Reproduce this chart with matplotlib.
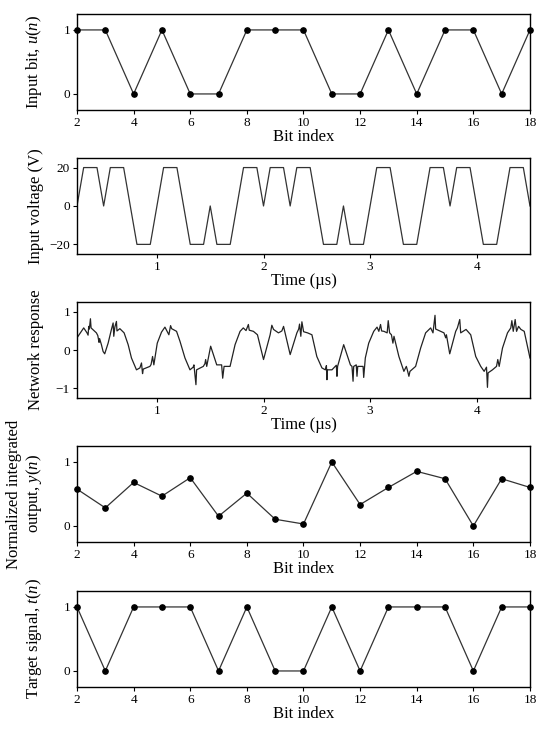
import matplotlib
matplotlib.use("Agg")
import matplotlib.pyplot as plt
import numpy as np

plt.rcParams['font.family'] = ['Liberation Serif', 'DejaVu Serif']
plt.rcParams['mathtext.fontset'] = 'custom'
plt.rcParams['mathtext.rm'] = 'Liberation Serif'
plt.rcParams['mathtext.it'] = 'Liberation Serif:italic'

# bit index axis
bit_index = list(range(2, 19))

# input bits u(n)
input_bits = [1, 1, 0, 1, 0, 0, 1, 1, 1, 0, 0, 1, 0, 1, 1, 0, 1]

# input voltage breakpoints (us, V)
t_volt = [0.25, 0.3125, 0.4375, 0.5, 0.5625, 0.6875, 0.8125, 0.9375, 1.0625, 1.1875,
          1.3125, 1.4375, 1.5, 1.5625, 1.6875, 1.8125, 1.9375, 2.0, 2.0625, 2.1875,
          2.25, 2.3125, 2.4375, 2.5625, 2.6875, 2.75, 2.8125, 2.9375, 3.0625, 3.1875,
          3.3125, 3.4375, 3.5625, 3.6875, 3.75, 3.8125, 3.9375, 4.0625, 4.1875, 4.3125,
          4.4375, 4.5]
v_volt = [0, 20, 20, 0, 20, 20, -20, -20, 20, 20,
          -20, -20, 0, -20, -20, 20, 20, 0, 20, 20,
          0, 20, 20, -20, -20, 0, -20, -20, 20, 20,
          -20, -20, 20, 20, 0, 20, 20, -20, -20, 20,
          20, 0]

# network response
t_resp = [0.25, 0.313, 0.344, 0.354, 0.36, 0.366, 0.376, 0.382, 0.405, 0.432,
          0.445, 0.457, 0.462, 0.479, 0.495, 0.51, 0.542, 0.573, 0.589, 0.595,
          0.605, 0.62, 0.625, 0.652, 0.692, 0.73, 0.761, 0.808, 0.84, 0.855,
          0.865, 0.872, 0.934, 0.945, 0.959, 0.971, 1.003, 1.043, 1.075, 1.112,
          1.128, 1.138, 1.184, 1.216, 1.263, 1.31, 1.34, 1.347, 1.366, 1.372,
          1.435, 1.45, 1.457, 1.467, 1.504, 1.561, 1.607, 1.617, 1.63, 1.655,
          1.686, 1.733, 1.78, 1.81, 1.836, 1.858, 1.866, 1.905, 1.943, 2.0,
          2.062, 2.078, 2.094, 2.14, 2.172, 2.188, 2.25, 2.313, 2.33, 2.338,
          2.35, 2.36, 2.376, 2.413, 2.454, 2.5, 2.548, 2.58, 2.59, 2.595,
          2.6, 2.642, 2.683, 2.689, 2.695, 2.752, 2.815, 2.83, 2.84, 2.846,
          2.87, 2.877, 2.884, 2.934, 2.94, 2.955, 2.987, 3.034, 3.065, 3.082,
          3.098, 3.108, 3.13, 3.16, 3.17, 3.183, 3.2, 3.214, 3.224, 3.27,
          3.317, 3.34, 3.349, 3.364, 3.374, 3.427, 3.474, 3.521, 3.568, 3.59,
          3.609, 3.615, 3.662, 3.693, 3.709, 3.716, 3.747, 3.803, 3.819, 3.841,
          3.85, 3.872, 3.9, 3.944, 3.991, 4.038, 4.07, 4.092, 4.101, 4.107,
          4.148, 4.186, 4.198, 4.211, 4.242, 4.289, 4.32, 4.33, 4.343, 4.361,
          4.374, 4.393, 4.415, 4.446, 4.5]
y_resp = [0.32, 0.58, 0.45, 0.39, 0.62, 0.55, 0.82, 0.58, 0.52, 0.45,
          0.38, 0.2, 0.3, 0.14, -0.04, -0.1, 0.18, 0.54, 0.71, 0.36,
          0.6, 0.75, 0.5, 0.56, 0.45, 0.14, -0.21, -0.52, -0.47, -0.34,
          -0.62, -0.5, -0.43, -0.38, -0.17, -0.39, 0.18, 0.47, 0.6, 0.40,
          0.64, 0.56, 0.49, 0.23, -0.21, -0.52, -0.45, -0.39, -0.91, -0.52,
          -0.43, -0.36, -0.25, -0.43, 0.1, -0.39, -0.39, -0.74, -0.43, -0.43,
          -0.43, 0.14, 0.49, 0.58, 0.51, 0.67, 0.52, 0.49, 0.40, -0.25,
          0.40, 0.65, 0.54, 0.45, 0.5, 0.62, -0.12, 0.45, 0.55, 0.68,
          0.36, 0.74, 0.48, 0.45, 0.40, -0.17, -0.47, -0.52, -0.41, -0.78,
          -0.52, -0.52, -0.40, -0.69, -0.43, 0.14, -0.39, -0.43, -0.82, -0.43,
          -0.39, -0.69, -0.43, -0.43, -0.72, -0.21, 0.18, 0.49, 0.6, 0.49,
          0.67, 0.5, 0.49, 0.45, 0.77, 0.45, 0.40, 0.18, 0.36, -0.17,
          -0.56, -0.43, -0.52, -0.69, -0.56, -0.43, 0.05, 0.45, 0.58, 0.45,
          0.91, 0.55, 0.49, 0.45, 0.32, 0.40, -0.1, 0.49, 0.58, 0.8,
          0.45, 0.49, 0.54, 0.40, -0.17, -0.43, -0.56, -0.45, -0.98, -0.6,
          -0.52, -0.43, -0.25, -0.43, 0.05, 0.45, 0.58, 0.77, 0.49, 0.8,
          0.49, 0.62, 0.54, 0.49, -0.21]

# normalized integrated output y(n)
integrated_out = [0.576, 0.283, 0.68, 0.466, 0.754, 0.152, 0.513, 0.105, 0.031,
                  1.0, 0.335, 0.602, 0.853, 0.738, 0.0, 0.738, 0.602]

# target signal t(n)
target = [1, 0, 1, 1, 1, 0, 1, 0, 0, 1, 0, 1, 1, 1, 0, 1, 1]

fig = plt.figure(figsize=(5.5, 7.33), dpi=100)

left, width, height = 0.14, 0.8236, 0.131
bottoms = [0.85, 0.6535, 0.457, 0.2606, 0.0628]
axes = [fig.add_axes([left, b, width, height]) for b in bottoms]

line_kw = dict(color='#333333', lw=0.9)
dot_kw = dict(color='#333333', lw=0.9, marker='o', markersize=3.8,
              markerfacecolor='black', markeredgecolor='black', clip_on=False)
lab = 12

ax = axes[0]
ax.plot(bit_index, input_bits, **dot_kw)
ax.set_xlim(2, 18)
ax.set_ylim(-0.25, 1.25)
ax.set_xticks(range(2, 19, 2))
ax.set_yticks([0, 1])
ax.set_xlabel('Bit index', fontsize=lab, labelpad=0)
ax.set_ylabel('Input bit, $u$($n$)', fontsize=lab)

ax = axes[1]
ax.plot(t_volt, v_volt, **line_kw)
ax.set_xlim(0.25, 4.5)
ax.set_ylim(-25, 25)
ax.set_xticks([1, 2, 3, 4])
ax.set_yticks([-20, 0, 20])
ax.set_xlabel('Time (\u00b5s)', fontsize=lab, labelpad=0)
ax.set_ylabel('Input voltage (V)', fontsize=lab)

ax = axes[2]
ax.plot(t_resp, y_resp, color='#222222', lw=0.9)
ax.set_xlim(0.25, 4.5)
ax.set_ylim(-1.26, 1.26)
ax.set_xticks([1, 2, 3, 4])
ax.set_yticks([-1, 0, 1])
ax.set_xlabel('Time (\u00b5s)', fontsize=lab, labelpad=0)
ax.set_ylabel('Network response', fontsize=lab)

ax = axes[3]
ax.plot(bit_index, integrated_out, **dot_kw)
ax.set_xlim(2, 18)
ax.set_ylim(-0.25, 1.25)
ax.set_xticks(range(2, 19, 2))
ax.set_yticks([0, 1])
ax.set_xlabel('Bit index', fontsize=lab, labelpad=0)
ax.set_ylabel('Normalized integrated\noutput, $y$($n$)', fontsize=lab)

ax = axes[4]
ax.plot(bit_index, target, **dot_kw)
ax.set_xlim(2, 18)
ax.set_ylim(-0.25, 1.25)
ax.set_xticks(range(2, 19, 2))
ax.set_yticks([0, 1])
ax.set_xlabel('Bit index', fontsize=lab, labelpad=0)
ax.set_ylabel('Target signal, $t$($n$)', fontsize=lab)

for ax in axes:
    ax.tick_params(labelsize=9.5, length=3, width=0.8, direction='out', pad=2)
    for s in ax.spines.values():
        s.set_linewidth(1.0)
    ax.yaxis.set_label_coords(-0.072, 0.5)

fig.savefig('out.png', dpi=100)
